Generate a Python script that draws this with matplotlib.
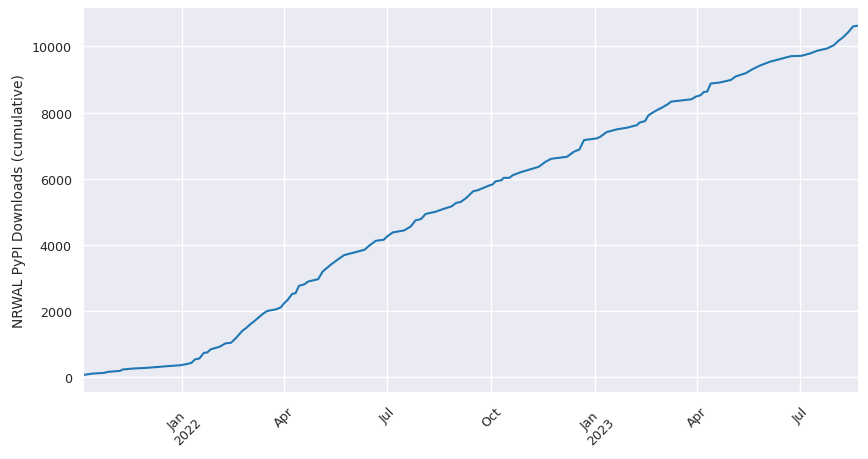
import matplotlib
matplotlib.use("Agg")
import matplotlib.pyplot as plt
import matplotlib.dates as mdates
from matplotlib.ticker import FuncFormatter, MultipleLocator
import pandas as pd

dates = [
    "2021-10-06", "2021-10-14", "2021-10-24", "2021-10-27", "2021-11-07", "2021-11-09",
    "2021-11-18", "2021-11-30", "2021-12-18", "2021-12-30", "2022-01-04", "2022-01-09",
    "2022-01-12", "2022-01-16", "2022-01-20", "2022-01-23", "2022-01-26", "2022-02-03",
    "2022-02-08", "2022-02-13", "2022-02-17", "2022-02-23", "2022-02-26", "2022-03-03",
    "2022-03-05", "2022-03-13", "2022-03-17", "2022-03-25", "2022-03-29", "2022-04-01",
    "2022-04-04", "2022-04-08", "2022-04-11", "2022-04-14", "2022-04-19", "2022-04-22",
    "2022-05-01", "2022-05-05", "2022-05-12", "2022-05-18", "2022-05-24", "2022-05-31",
    "2022-06-11", "2022-06-15", "2022-06-21", "2022-06-28", "2022-07-01", "2022-07-06",
    "2022-07-16", "2022-07-22", "2022-07-26", "2022-07-31", "2022-08-04", "2022-08-13",
    "2022-08-18", "2022-08-27", "2022-08-31", "2022-09-04", "2022-09-09", "2022-09-15",
    "2022-09-19", "2022-09-29", "2022-10-02", "2022-10-05", "2022-10-10", "2022-10-12",
    "2022-10-17", "2022-10-20", "2022-10-27", "2022-11-04", "2022-11-12", "2022-11-18",
    "2022-11-23", "2022-12-07", "2022-12-13", "2022-12-18", "2022-12-22", "2023-01-02",
    "2023-01-05", "2023-01-11", "2023-01-20", "2023-01-29", "2023-02-07", "2023-02-09",
    "2023-02-14", "2023-02-17", "2023-02-23", "2023-03-01", "2023-03-06", "2023-03-09",
    "2023-03-27", "2023-03-31", "2023-04-04", "2023-04-07", "2023-04-10", "2023-04-13",
    "2023-04-21", "2023-05-01", "2023-05-05", "2023-05-14", "2023-05-20", "2023-05-26",
    "2023-06-04", "2023-06-13", "2023-06-23", "2023-07-02", "2023-07-10", "2023-07-16",
    "2023-07-25", "2023-07-31", "2023-08-04", "2023-08-08", "2023-08-13", "2023-08-17",
    "2023-08-21",
]
downloads = [
    80, 120, 140, 170, 200, 240,
    270, 290, 340, 370, 400, 440,
    545, 575, 745, 755, 850, 930,
    1030, 1050, 1180, 1410, 1485, 1635,
    1685, 1920, 2010, 2060, 2120, 2245,
    2340, 2525, 2545, 2767, 2818, 2897,
    2970, 3200, 3403, 3555, 3697, 3758,
    3858, 3979, 4130, 4161, 4261, 4382,
    4442, 4564, 4745, 4788, 4939, 5009,
    5070, 5170, 5273, 5303, 5424, 5624,
    5655, 5797, 5827, 5927, 5958, 6030,
    6030, 6109, 6200, 6282, 6364, 6515,
    6606, 6667, 6818, 6888, 7170, 7221,
    7261, 7412, 7494, 7545, 7624, 7697,
    7745, 7918, 8048, 8152, 8252, 8333,
    8403, 8485, 8524, 8624, 8636, 8879,
    8909, 8988, 9091, 9191, 9312, 9412,
    9533, 9615, 9706, 9715, 9788, 9867,
    9939, 10039, 10170, 10273, 10442, 10606,
    10624,
]
y_label = "NRWAL PyPI Downloads (cumulative)"

x = pd.to_datetime(dates)

FS = 9.1
LFS = 9.9
TEXT = "#262626"
fig = plt.figure(figsize=(8.68, 4.6), dpi=100)
ax = fig.add_axes([84 / 868, 1 - 393.3 / 460, (857.7 - 84) / 868, (393.3 - 9.3) / 460])
ax.set_facecolor("#EAEAF2")
for s in ax.spines.values():
    s.set_visible(False)
ax.grid(True, color="white", linewidth=1.0)
ax.set_axisbelow(True)

ax.plot(x, downloads, color="#1f77b4", linewidth=1.5)
ax.margins(x=0, y=0.05)

ax.xaxis.set_major_locator(mdates.MonthLocator(bymonth=[1, 4, 7, 10]))
def fmt(v, pos):
    d = mdates.num2date(v)
    if d.month == 1:
        return d.strftime("%b") + "\n" + d.strftime("%Y")
    return d.strftime("%b")
ax.xaxis.set_major_formatter(FuncFormatter(fmt))
ax.yaxis.set_major_locator(MultipleLocator(2000))
ax.yaxis.set_major_formatter(FuncFormatter(lambda v, p: f"{int(v)}"))

ax.tick_params(axis="both", length=0, pad=8.9, labelsize=FS, labelcolor=TEXT)
for lbl in ax.get_xticklabels():
    lbl.set_rotation(45)
    lbl.set_ha("center")
ax.set_ylabel(y_label, fontsize=LFS, color=TEXT, labelpad=4)

fig.savefig("out.png", dpi=100)
